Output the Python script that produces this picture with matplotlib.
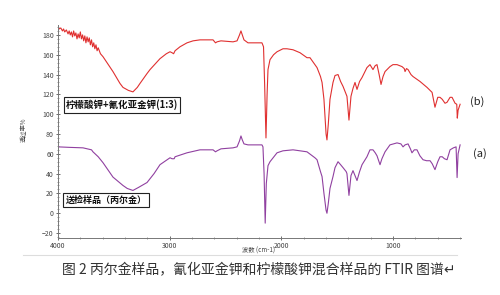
import matplotlib
matplotlib.use("Agg")
import matplotlib.pyplot as plt
from matplotlib.ticker import MultipleLocator
from matplotlib.lines import Line2D

plt.rcParams['font.family'] = ['Noto Sans CJK SC', 'DejaVu Sans']

# Curve (b): potassium citrate + potassium gold cyanide (1:3)
wn_b = [4000, 3990, 3975, 3960, 3950, 3940, 3925, 3910, 3900, 3890, 3880, 3870, 3860, 3850,
        3840, 3830, 3820, 3810, 3800, 3790, 3780, 3770, 3760, 3750, 3740, 3730, 3720, 3710,
        3700, 3690, 3680, 3670, 3660, 3650, 3640, 3620, 3597, 3561, 3508, 3445, 3418, 3370,
        3329, 3290, 3266, 3203, 3176, 3087, 3030, 2997, 2979, 2965, 2952, 2908, 2845, 2791,
        2729, 2650, 2612, 2590, 2576, 2541, 2433, 2397, 2375, 2362, 2350, 2335, 2299, 2236,
        2174, 2160, 2150, 2138, 2128, 2120, 2102, 2070, 2039, 1986, 1950, 1896, 1833, 1771,
        1744, 1700, 1681, 1650, 1636, 1619, 1600, 1592, 1580, 1565, 1538, 1520, 1493, 1470,
        1448, 1420, 1413, 1395, 1377, 1359, 1341, 1323, 1300, 1278, 1234, 1207, 1180, 1160,
        1144, 1125, 1108, 1090, 1072, 1028, 1001, 965, 920, 900, 893, 880, 866, 840, 822,
        759, 696, 651, 625, 600, 580, 560, 535, 517, 490, 472, 445, 430, 425, 418, 400]
t_b = [188, 186, 187, 184, 186, 183, 185, 181, 184, 180, 183, 178, 184, 179,
       182, 176, 181, 177, 183, 176, 180, 174, 179, 172, 178, 173, 177, 170,
       175, 168, 172, 166, 170, 164, 167, 161, 158, 152, 143, 131, 127, 124,
       122.5, 127, 131, 141, 145, 156, 161, 163, 162, 161, 164, 168, 172, 174,
       175, 175, 175, 172, 173, 174, 173, 174, 180, 184, 180, 175, 172, 172,
       172, 168, 130, 76, 120, 145, 155, 160, 163, 166, 166, 165, 162, 157,
       157, 150, 147, 138, 132, 115, 80, 74, 90, 115, 132, 139, 140, 133,
       128, 120, 118, 94, 118, 126, 132, 125, 133, 137, 147, 150, 145, 149,
       150, 140, 130, 138, 143, 148, 150, 150, 148, 146, 143, 146, 145, 140, 138,
       133, 127, 122, 107, 117, 117, 115, 111, 112, 117, 117, 111, 110, 96, 104, 110]

# Curve (a): sample submitted for testing
wn_a = [4000, 3900, 3776, 3700, 3687, 3640, 3597, 3508, 3418, 3380, 3329, 3280, 3203, 3140,
        3087, 2997, 2979, 2960, 2952, 2845, 2729, 2640, 2612, 2590, 2576, 2541, 2433, 2397,
        2375, 2362, 2350, 2335, 2299, 2236, 2174, 2165, 2155, 2145, 2135, 2120, 2102, 2039,
        1986, 1896, 1833, 1771, 1700, 1681, 1650, 1636, 1619, 1600, 1592, 1580, 1565, 1538,
        1520, 1493, 1470, 1448, 1420, 1413, 1395, 1377, 1359, 1341, 1323, 1300, 1278, 1234,
        1207, 1180, 1160, 1144, 1117, 1100, 1072, 1028, 965, 930, 911, 893, 866, 845, 831,
        810, 786, 760, 732, 700, 669, 650, 625, 600, 580, 560, 540, 517, 490, 460, 436,
        427, 418, 400]
t_a = [67, 66.5, 66, 64, 62, 57, 51, 36.5, 28, 25, 23, 26, 31, 40,
       49, 56, 55, 55, 57, 61, 64, 64, 64, 62, 63, 65, 66, 67,
       73, 78, 74, 70, 69, 69, 69, 67, 40, -10, 30, 48, 52, 61,
       63, 64, 63, 62, 56, 54, 42, 37, 20, 3, 0, 10, 25, 37,
       46, 52, 49, 46, 42, 40, 18, 38, 43, 38, 33, 42, 49, 57,
       64, 64, 61, 58, 49, 55, 62, 69, 71, 70, 67, 69, 70, 65, 61,
       64, 64, 58, 54, 53, 53, 50, 44, 52, 57, 57, 55, 54, 64, 66, 67,
       36, 60, 69]

x_ticks = [4000, 3000, 2000, 1000]
y_ticks = [-20, 0, 20, 40, 60, 80, 100, 120, 140, 160, 180]

W, H = 500, 295
fig = plt.figure(figsize=(W / 100, H / 100), dpi=100)
ax = fig.add_axes([58 / W, 1 - 238 / H, (461 - 58) / W, (238 - 25) / H])

ax.plot(wn_b, t_b, color='#e03030', lw=0.8)
ax.plot(wn_a, t_a, color='#9040a0', lw=0.8)

ax.set_xlim(4000, 392)
ax.set_ylim(-25, 190)
ax.set_xticks(x_ticks)
ax.set_yticks(y_ticks)
ax.xaxis.set_minor_locator(MultipleLocator(200))
ax.yaxis.set_minor_locator(MultipleLocator(4))
for s in ['top', 'right']:
    ax.spines[s].set_visible(False)
for s in ['left', 'bottom']:
    ax.spines[s].set_color('#777777')
    ax.spines[s].set_linewidth(0.7)
ax.tick_params(which='major', direction='inout', length=3, width=0.6, color='#555555',
               labelsize=5, labelcolor='#444444', pad=1.5)
ax.tick_params(which='minor', direction='inout', length=2, width=0.5, color='#777777')

def px(x, y):
    return x / W, 1 - y / H

fig.text(*px(122, 105), '柠檬酸钾+氰化亚金钾(1:3)', fontsize=6.8, ha='center', va='center',
         color='#111111', fontweight='bold',
         bbox=dict(boxstyle='square,pad=0.25', fc='white', ec='#222222', lw=0.8))
fig.text(*px(106, 200), '送检样品（丙尔金）', fontsize=6.5, ha='center', va='center',
         color='#111111', fontweight='bold',
         bbox=dict(boxstyle='square,pad=0.25', fc='white', ec='#222222', lw=0.8))

fig.text(*px(477, 102), '(b)', fontsize=8, ha='center', va='center', color='#222222')
fig.text(*px(480, 154), '(a)', fontsize=8, ha='center', va='center', color='#222222')

fig.text(*px(24, 130), '透过率%', fontsize=4.5, rotation=90, ha='center', va='center', color='#444444')
fig.text(*px(259, 251), '波数 (cm-1)', fontsize=4.5, ha='center', va='center', color='#444444')

fig.add_artist(Line2D([23 / W, 457 / W], [1 - 255 / H, 1 - 255 / H], color='#dddddd', lw=0.8))

fig.text(*px(259, 270), '图 2 丙尔金样品，氰化亚金钾和柠檬酸钾混合样品的 FTIR 图谱↵', fontsize=10,
         ha='center', va='center', color='#333333')

fig.savefig('out.png', dpi=100, facecolor='white')
